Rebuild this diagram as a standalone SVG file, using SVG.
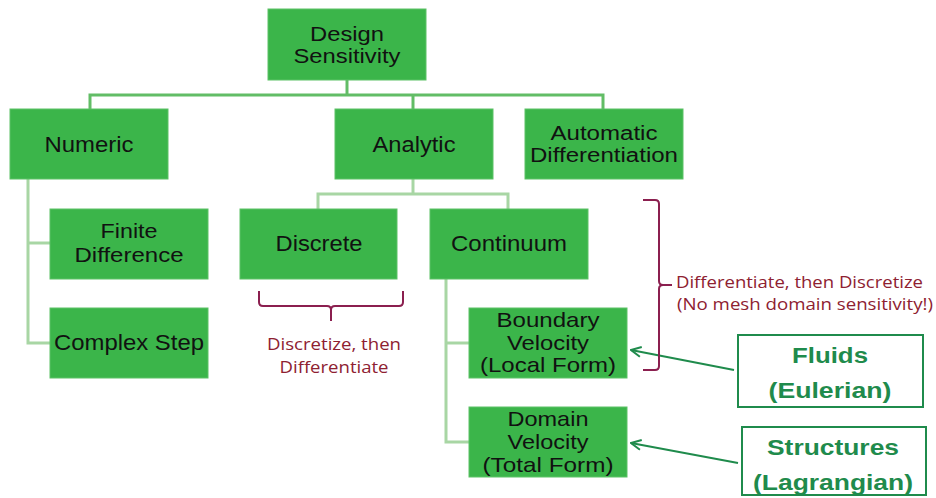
<svg xmlns="http://www.w3.org/2000/svg" width="936" height="498" viewBox="0 0 936 498">
<style>
.box{fill:#3bb54a;stroke:#5cc266;stroke-width:1}
.t{font-family:"Liberation Sans",Arial,sans-serif;font-size:22px;fill:#111;text-anchor:middle}
.t2{font-family:"Liberation Sans",Arial,sans-serif;font-size:21px;fill:#111;text-anchor:middle}
.t3{font-family:"Liberation Sans",Arial,sans-serif;font-size:20px;fill:#111;text-anchor:middle}
.c1{fill:none;stroke:#62bd66;stroke-width:3}
.c2{fill:none;stroke:#a8d6a4;stroke-width:3}
.brace{fill:none;stroke:#8b1f4f;stroke-width:2}
.note{font-family:"Open Sans","Liberation Sans",sans-serif;font-size:16px;fill:#8e2131}
.gbox{fill:#fff;stroke:#1f8b4c;stroke-width:2}
.gt{font-family:"Liberation Sans",Arial,sans-serif;font-weight:bold;font-size:22px;fill:#1f8b4c;text-anchor:middle}
.arr{fill:none;stroke:#1f8b4c;stroke-width:2;marker-end:url(#ah)}
</style>
<defs>
<marker id="ah" viewBox="0 0 12 12" refX="11" refY="6" markerWidth="12" markerHeight="12" markerUnits="userSpaceOnUse" orient="auto">
<path d="M1,1 L11,6 L1,11" fill="none" stroke="#1f8b4c" stroke-width="2"/>
</marker>
</defs>
<g id="connectors">
<polyline class="c1" points="347,80 347,95"/>
<polyline class="c1" points="90,109 90,95 603,95 603,109"/>
<polyline class="c1" points="413,95 413,109"/>
<polyline class="c2" points="413,179 413,194"/>
<polyline class="c2" points="318,209 318,194 508,194 508,209"/>
<polyline class="c2" points="28,179 28,343 50,343"/>
<polyline class="c2" points="28,243 50,243"/>
<polyline class="c2" points="446,279 446,442 469,442"/>
<polyline class="c2" points="446,343 469,343"/>
<line class="arr" x1="734" y1="370" x2="631" y2="350"/>
<line class="arr" x1="738" y1="463" x2="631" y2="443"/>
</g>
<g id="design-sensitivity">
<rect class="box" x="268" y="9" width="158" height="71"/>
<text class="t3" x="347" y="41" textLength="74" lengthAdjust="spacingAndGlyphs">Design</text>
<text class="t3" x="347" y="63" textLength="107" lengthAdjust="spacingAndGlyphs">Sensitivity</text>
</g>
<g id="numeric">
<rect class="box" x="10" y="109" width="158" height="70"/>
<text class="t" x="89" y="152" textLength="89" lengthAdjust="spacingAndGlyphs">Numeric</text>
</g>
<g id="analytic">
<rect class="box" x="335" y="109" width="158" height="70"/>
<text class="t" x="414" y="152" textLength="83" lengthAdjust="spacingAndGlyphs">Analytic</text>
</g>
<g id="automatic">
<rect class="box" x="525" y="109" width="158" height="70"/>
<text class="t3" x="604" y="140" textLength="107" lengthAdjust="spacingAndGlyphs">Automatic</text>
<text class="t3" x="604" y="162" textLength="148" lengthAdjust="spacingAndGlyphs">Differentiation</text>
</g>
<g id="finite-difference">
<rect class="box" x="50" y="209" width="158" height="70"/>
<text class="t2" x="129" y="238" textLength="57" lengthAdjust="spacingAndGlyphs">Finite</text>
<text class="t2" x="129" y="262" textLength="109" lengthAdjust="spacingAndGlyphs">Difference</text>
</g>
<g id="complex-step">
<rect class="box" x="50" y="308" width="158" height="70"/>
<text class="t" x="129" y="350" textLength="150" lengthAdjust="spacingAndGlyphs">Complex Step</text>
</g>
<g id="discrete">
<rect class="box" x="240" y="209" width="157" height="70"/>
<text class="t" x="319" y="251" textLength="87" lengthAdjust="spacingAndGlyphs">Discrete</text>
</g>
<g id="continuum">
<rect class="box" x="430" y="209" width="158" height="70"/>
<text class="t" x="509" y="251" textLength="116" lengthAdjust="spacingAndGlyphs">Continuum</text>
</g>
<g id="boundary-velocity">
<rect class="box" x="469" y="308" width="158" height="70"/>
<text class="t2" x="548" y="327" textLength="103" lengthAdjust="spacingAndGlyphs">Boundary</text>
<text class="t2" x="548" y="350" textLength="82" lengthAdjust="spacingAndGlyphs">Velocity</text>
<text class="t2" x="548" y="372" textLength="136" lengthAdjust="spacingAndGlyphs">(Local Form)</text>
</g>
<g id="domain-velocity">
<rect class="box" x="469" y="407" width="158" height="70"/>
<text class="t2" x="548" y="426" textLength="81" lengthAdjust="spacingAndGlyphs">Domain</text>
<text class="t2" x="548" y="449" textLength="81" lengthAdjust="spacingAndGlyphs">Velocity</text>
<text class="t2" x="548" y="472" textLength="131" lengthAdjust="spacingAndGlyphs">(Total Form)</text>
</g>
<g id="discrete-note">
<path class="brace" d="M259,291 L259,302 Q259,306 263,306 L327,306 Q331,306 331,310 L331,321 M331,310 Q331,306 335,306 L399,306 Q403,306 403,302 L403,291"/>
<text class="note" x="334" y="350" text-anchor="middle" textLength="134" lengthAdjust="spacingAndGlyphs">Discretize, then</text>
<text class="note" x="334" y="373" text-anchor="middle" textLength="109" lengthAdjust="spacingAndGlyphs">Differentiate</text>
</g>
<g id="continuum-note">
<path class="brace" d="M643,200 L655,200 Q659,200 659,204 L659,281 Q659,285 663,285 L672,285 M663,285 Q659,285 659,289 L659,366 Q659,370 655,370 L643,370"/>
<text class="note" x="676" y="288" textLength="247" lengthAdjust="spacingAndGlyphs">Differentiate, then Discretize</text>
<text class="note" x="677" y="310" textLength="256" lengthAdjust="spacingAndGlyphs">(No mesh domain sensitivity!)</text>
</g>
<g id="fluids">
<rect class="gbox" x="738" y="335" width="185" height="72"/>
<text class="gt" x="830" y="363" textLength="76" lengthAdjust="spacingAndGlyphs">Fluids</text>
<text class="gt" x="830" y="398" textLength="123" lengthAdjust="spacingAndGlyphs">(Eulerian)</text>
</g>
<g id="structures">
<rect class="gbox" x="742" y="427" width="184" height="68"/>
<text class="gt" x="833" y="455" textLength="132" lengthAdjust="spacingAndGlyphs">Structures</text>
<text class="gt" x="833" y="490" textLength="160" lengthAdjust="spacingAndGlyphs">(Lagrangian)</text>
</g>
</svg>
